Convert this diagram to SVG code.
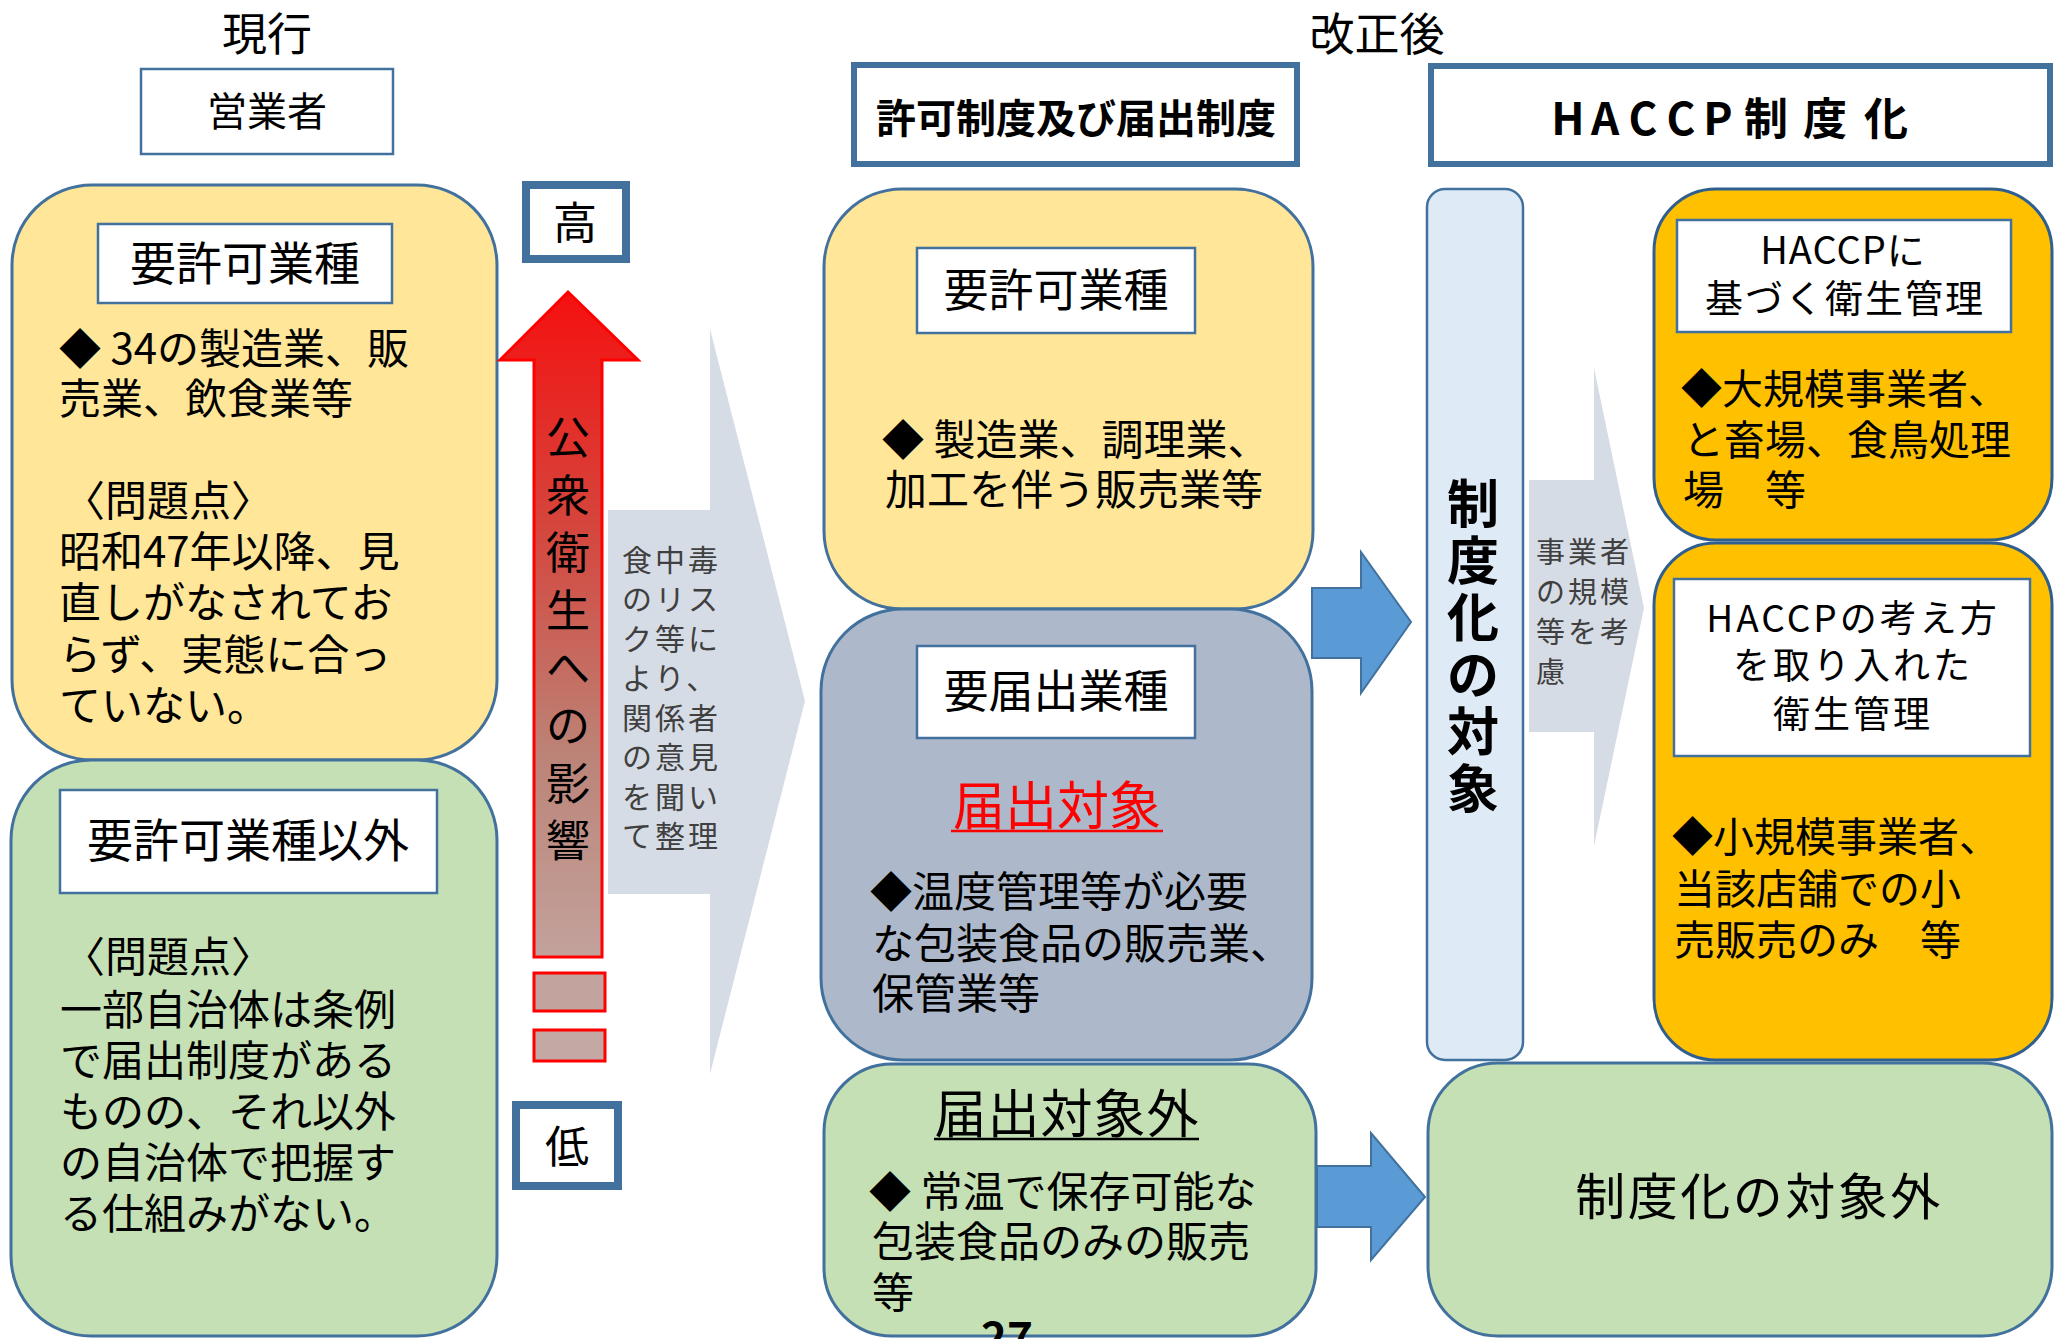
<svg xmlns="http://www.w3.org/2000/svg" width="2062" height="1339" viewBox="0 0 2062 1339">
<defs>
<style>
text{font-family:"Noto Sans CJK JP","Noto Sans CJK SC",sans-serif;fill:#000}
.bd{font-size:42px}
.hd{font-size:46px}
.sm{font-size:30px;fill:#404040;letter-spacing:3px}
.ctr{text-anchor:middle}
.bold{font-weight:bold}
.box{stroke:#41719C;stroke-width:3}
.yel{fill:#FFE699}
.grn{fill:#C5E0B4}
.gry{fill:#ADB9CA}
.org{fill:#FFC000;stroke:#2F5F8F;stroke-width:3}
.lb{fill:#DEEBF7;stroke:#41719C;stroke-width:2.5}
.lbl{fill:#fff;stroke:#41719C;stroke-width:2.5}
.thick{fill:#fff;stroke:#41719C;stroke-width:6}
.hl{fill:#fff;stroke:#41719C;stroke-width:8}
.chev{fill:#D6DCE5}
.barr{fill:#5B9BD5;stroke:#41719C;stroke-width:2}
</style>
<linearGradient id="redg" x1="0" y1="0" x2="0" y2="1">
<stop offset="0" stop-color="#F51010"/>
<stop offset="0.35" stop-color="#D5453C"/>
<stop offset="0.7" stop-color="#BC8478"/>
<stop offset="1" stop-color="#C2A29C"/>
</linearGradient>
</defs>
<rect width="2062" height="1339" fill="#fff"/>

<g id="titles">
<text class="ctr" style="font-size:45px" x="267" y="51">現行</text>
<text class="ctr" style="font-size:45px" x="1377" y="51">改正後</text>
</g>

<g id="eigyousha">
<rect class="lbl" x="141" y="69" width="252" height="85"/>
<text class="ctr" style="font-size:40px" x="267" y="126">営業者</text>
</g>

<g id="left-permit">
<rect class="box yel" x="12" y="185" width="485" height="575" rx="80" ry="80"/>
<rect class="lbl" x="98" y="224" width="294" height="79"/>
<text class="hd ctr" x="245" y="280">要許可業種</text>
<text class="bd" x="59" y="364">◆ 34の製造業、販</text>
<text class="bd" x="59" y="414">売業、飲食業等</text>
<text class="bd" x="63" y="516">〈問題点〉</text>
<text class="bd" x="59" y="567">昭和47年以降、見</text>
<text class="bd" x="59" y="618">直しがなされてお</text>
<text class="bd" x="59" y="670">らず、実態に合っ</text>
<text class="bd" x="59" y="721">ていない。</text>
</g>

<g id="left-other">
<rect class="box grn" x="11" y="760" width="486" height="576" rx="80" ry="80"/>
<rect class="lbl" x="60" y="790" width="377" height="103"/>
<text class="hd ctr" x="248" y="857">要許可業種以外</text>
<text class="bd" x="63" y="972">〈問題点〉</text>
<text class="bd" x="60" y="1025">一部自治体は条例</text>
<text class="bd" x="60" y="1076">で届出制度がある</text>
<text class="bd" x="60" y="1127">ものの、それ以外</text>
<text class="bd" x="60" y="1178">の自治体で把握す</text>
<text class="bd" x="60" y="1229">る仕組みがない。</text>
</g>

<g id="high">
<rect class="hl" x="526" y="185" width="100" height="74"/>
<text class="ctr" style="font-size:44px" x="575" y="239">高</text>
</g>
<g id="low">
<rect class="hl" x="516" y="1105" width="102" height="81"/>
<text class="ctr" style="font-size:44px" x="567" y="1163">低</text>
</g>

<g id="impact-arrow">
<polygon points="568,292 638,360 602,360 602,957 534,957 534,360 500,360" fill="url(#redg)" stroke="#FF0000" stroke-width="3"/>
<rect x="534" y="973" width="71" height="38" fill="#C3A39E" stroke="#FF0000" stroke-width="3"/>
<rect x="534" y="1030" width="71" height="31" fill="#C4A8A4" stroke="#FF0000" stroke-width="3"/>
<text class="ctr" style="font-size:44px" x="568 568 568 568 568 568 568 568" y="454 512 569 627 684 742 800 857">公衆衛生への影響</text>
</g>

<g id="connectors">
<polygon class="chev" points="608,510 710,510 710,329 805,701 710,1074 710,894 608,894"/>
<polygon class="chev" points="1529,480 1594,480 1594,368 1644,608 1594,846 1594,732 1529,732"/>
<polygon class="barr" points="1312,588 1361,588 1361,552 1411,622 1361,693 1361,658 1312,658"/>
<polygon class="barr" points="1317,1166 1371,1166 1371,1133 1425,1197 1371,1260 1371,1227 1317,1227"/>
<text class="sm" x="622" y="571">食中毒</text>
<text class="sm" x="622" y="610">のリス</text>
<text class="sm" x="622" y="650">ク等に</text>
<text class="sm" x="622" y="689">より、</text>
<text class="sm" x="622" y="729">関係者</text>
<text class="sm" x="622" y="768">の意見</text>
<text class="sm" x="622" y="808">を聞い</text>
<text class="sm" x="622" y="847">て整理</text>
<text class="sm" style="font-size:29px" x="1536" y="563">事業者</text>
<text class="sm" style="font-size:29px" x="1536" y="603">の規模</text>
<text class="sm" style="font-size:29px" x="1536" y="643">等を考</text>
<text class="sm" style="font-size:29px" x="1536" y="683">慮</text>
</g>

<g id="header-permit">
<rect class="thick" x="854" y="65" width="443" height="99"/>
<text class="ctr bold" style="font-size:40px" x="1076" y="133">許可制度及び届出制度</text>
</g>

<g id="header-haccp">
<rect class="thick" x="1431" y="66" width="619" height="98"/>
<text class="ctr bold" style="font-size:44px" x="1568 1605 1643 1681 1718 1766 1825 1886" y="135">HACCP制度化</text>
</g>

<g id="mid-permit">
<rect class="box yel" x="824" y="189" width="489" height="420" rx="78" ry="78"/>
<rect class="lbl" x="917" y="248" width="278" height="85"/>
<text class="ctr" style="font-size:45px" x="1056" y="307">要許可業種</text>
<text class="bd" x="882" y="455">◆ 製造業、調理業、</text>
<text class="bd" x="885" y="505">加工を伴う販売業等</text>
</g>

<g id="mid-notify">
<rect class="box gry" x="821" y="609" width="491" height="451" rx="82" ry="82"/>
<rect class="lbl" x="917" y="646" width="278" height="92"/>
<text class="ctr" style="font-size:45px" x="1056" y="708">要届出業種</text>
<text class="ctr" style="font-size:52px;fill:#FF0000" x="1057" y="825">届出対象</text>
<line x1="951" y1="831" x2="1163" y2="831" stroke="#FF0000" stroke-width="2.5"/>
<text class="bd" x="870" y="907">◆温度管理等が必要</text>
<text class="bd" x="872" y="959">な包装食品の販売業、</text>
<text class="bd" x="872" y="1009">保管業等</text>
</g>

<g id="mid-exempt">
<rect class="box grn" x="824" y="1064" width="492" height="272" rx="68" ry="68"/>
<text class="ctr" style="font-size:52px;letter-spacing:1px" x="1067" y="1133">届出対象外</text>
<line x1="934" y1="1139" x2="1199" y2="1139" stroke="#000" stroke-width="2.5"/>
<text class="bd" x="869" y="1207">◆ 常温で保存可能な</text>
<text class="bd" x="872" y="1257">包装食品のみの販売</text>
<text class="bd" x="872" y="1308">等</text>
<text class="ctr bold" style="font-size:44px" x="1007" y="1354">27</text>
</g>

<g id="haccp-target">
<rect class="lb" x="1427" y="189" width="96" height="871" rx="18" ry="18"/>
<text class="ctr bold" style="font-size:52px" x="1473 1473 1473 1473 1473 1473" y="523 580 637 694 751 808">制度化の対象</text>
</g>

<g id="haccp-based">
<rect class="org" x="1654" y="189" width="398" height="351" rx="62" ry="62"/>
<rect class="lbl" x="1677" y="220" width="334" height="112"/>
<text class="ctr" style="font-size:38px;letter-spacing:1px" x="1843" y="264">HACCPに</text>
<text class="ctr" style="font-size:38px;letter-spacing:2px" x="1845" y="312">基づく衛生管理</text>
<text class="bd" style="font-size:41px" x="1681" y="404">◆大規模事業者、</text>
<text class="bd" style="font-size:41px" x="1683" y="455">と畜場、食鳥処理</text>
<text class="bd" style="font-size:41px" x="1683" y="505">場　等</text>
</g>

<g id="haccp-approach">
<rect class="org" x="1654" y="543" width="398" height="517" rx="62" ry="62"/>
<rect class="lbl" x="1674" y="579" width="356" height="177"/>
<text class="ctr" style="font-size:37px;letter-spacing:3px" x="1853" y="632">HACCPの考え方</text>
<text class="ctr" style="font-size:37px;letter-spacing:3px" x="1853" y="679">を取り入れた</text>
<text class="ctr" style="font-size:37px;letter-spacing:3px" x="1853" y="728">衛生管理</text>
<text class="bd" style="font-size:41px" x="1672" y="852">◆小規模事業者、</text>
<text class="bd" style="font-size:41px" x="1674" y="904">当該店舗での小</text>
<text class="bd" style="font-size:41px" x="1674" y="955">売販売のみ　等</text>
</g>

<g id="haccp-exempt">
<rect class="box grn" x="1428" y="1063" width="624" height="273" rx="70" ry="70"/>
<text class="ctr" style="font-size:50px;letter-spacing:2.5px" x="1759" y="1215">制度化の対象外</text>
</g>
</svg>
